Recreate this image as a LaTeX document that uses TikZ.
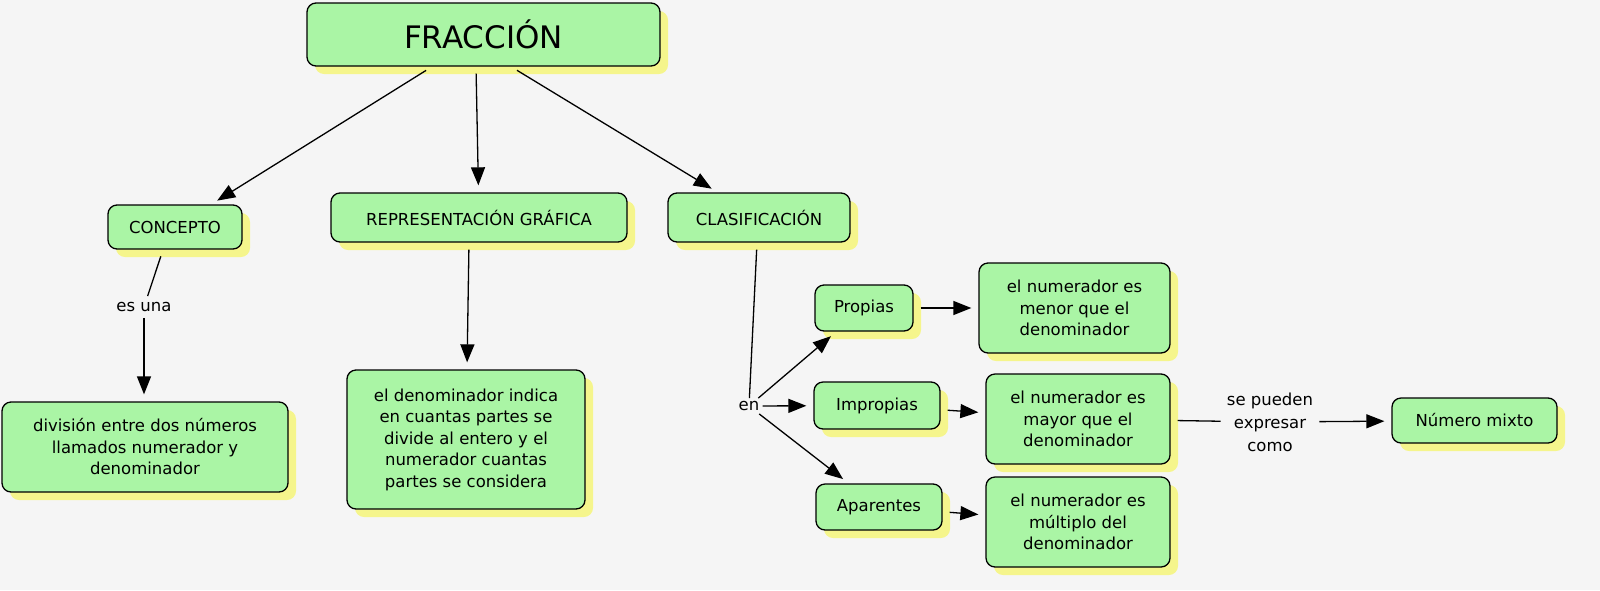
\documentclass[tikz,border=0pt]{standalone}
\usepackage{fontspec}
\setmainfont{DejaVu Sans}
\usetikzlibrary{arrows.meta,shadows}
\definecolor{bg}{RGB}{245,245,245}
\definecolor{boxg}{RGB}{170,245,165}
\definecolor{shy}{RGB}{245,245,140}
\begin{document}
\begin{tikzpicture}[x=1pt,y=-1pt,
  box/.style={draw=black,line width=1.3pt,fill=boxg,rounded corners=9pt,align=center,
    font=\fontsize{16.5}{21.5}\selectfont,inner sep=0pt,
    drop shadow={shadow xshift=8pt,shadow yshift=-8pt,fill=shy,opacity=1}},
  lk/.style={font=\fontsize{16.5}{21.5}\selectfont,align=center,inner sep=6pt},
  arr/.style={line width=1.3pt,-{Triangle[length=18pt,width=14pt]},shorten >=7pt,shorten <=7pt},
  ln/.style={line width=1.3pt,shorten <=7pt}]
\fill[bg] (0,0) rectangle (1600,590);
\useasboundingbox (0,0) rectangle (1600,590);
\node[box,minimum width=353pt,minimum height=63pt,font=\fontsize{31}{36}\selectfont] (fr) at (483.5,34.5) {FRACCIÓN};
\node[box,minimum width=134pt,minimum height=44pt] (co) at (175,227) {CONCEPTO};
\node[box,minimum width=296pt,minimum height=49pt] (re) at (479,217.5) {REPRESENTACIÓN GRÁFICA};
\node[box,minimum width=182pt,minimum height=49pt] (cl) at (759,217.5) {CLASIFICACIÓN};
\node[box,minimum width=286pt,minimum height=90pt] (di) at (145,447) {división entre dos números\\llamados numerador y\\denominador};
\node[box,minimum width=238pt,minimum height=139pt] (de) at (466,439.5) {el denominador indica\\en cuantas partes se\\divide al entero y el\\numerador cuantas\\partes se considera};
\node[box,minimum width=98pt,minimum height=46pt] (pr) at (864,308) {Propias};
\node[box,minimum width=191pt,minimum height=90pt] (me) at (1074.5,308) {el numerador es\\menor que el\\denominador};
\node[box,minimum width=126pt,minimum height=47pt] (im) at (877,405.5) {Impropias};
\node[box,minimum width=184pt,minimum height=90pt] (ma) at (1078,419) {el numerador es\\mayor que el\\denominador};
\node[box,minimum width=126pt,minimum height=46pt] (ap) at (879,507) {Aparentes};
\node[box,minimum width=184pt,minimum height=90pt] (mu) at (1078,522) {el numerador es\\múltiplo del\\denominador};
\node[box,minimum width=165pt,minimum height=45pt] (nm) at (1474.5,420.5) {Número mixto};
\node[lk] (eu) at (144,307) {es una};
\node[lk,inner sep=3pt] (en) at (749,406) {en};
\node[lk,font=\fontsize{16.5}{23}\selectfont] (sp) at (1270,422) {se pueden\\expresar\\como};
\draw[arr] (fr) -- (co);
\draw[arr] (fr.south -| 476,0) -- (re);
\draw[arr] (fr.south -| 511,0) -- (cl);
\draw[ln] (co.south -| 163,0) -- (eu);
\draw[arr,shorten <=0pt] (eu) -- (di.north -| eu);
\draw[arr] (re.south -| 469,0) -- (de.north -| 467,0);
\draw[ln] (cl.south -| 757,0) -- (en);
\draw[arr,shorten <=0pt] (en) -- (pr);
\draw[arr,shorten <=0pt] (en) -- (im);
\draw[arr,shorten <=0pt] (en) -- (ap);
\draw[arr] (pr) -- (me);
\draw[arr] (im) -- (ma);
\draw[arr] (ap) -- (mu);
\draw[ln,shorten >=0pt] (ma) -- (sp);
\draw[arr,shorten <=0pt] (sp) -- (nm);
\end{tikzpicture}
\end{document}
